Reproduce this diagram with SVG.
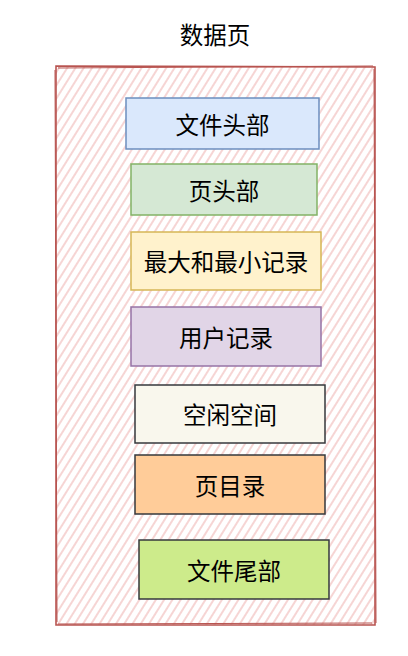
<svg xmlns="http://www.w3.org/2000/svg" width="408" height="656" viewBox="0 0 408 656">
<defs>
<pattern id="hatch" width="7" height="7" patternUnits="userSpaceOnUse" patternTransform="rotate(32)">
<line x1="2" y1="0" x2="2" y2="7" stroke="#efb2b0" stroke-width="1.1"/>
</pattern>
</defs>
<style>
.t{font-family:"Noto Sans CJK SC","Liberation Sans",sans-serif;font-size:23.5px;fill:#000;text-anchor:middle;dominant-baseline:central}
.b{stroke-width:1.5}
</style>
<rect width="408" height="656" fill="#fff"/>
<text class="t" x="215" y="33.5">数据页</text>
<g id="container">
<rect x="56" y="66" width="319" height="559" fill="url(#hatch)"/>
<path d="M56 66 L375 67 L375 625 L56 625 Z" fill="none" stroke="#b85450" stroke-width="1.6"/>
<path d="M58 68 L373 66 M374 69 L376 623 M372 623 L58 624 M57 622 L55 70" fill="none" stroke="#b85450" stroke-width="1"/>
</g>
<g id="n1"><rect class="b" x="126" y="98" width="193" height="51" fill="#dae8fc" stroke="#6c8ebf"/><text class="t" x="222.5" y="123.5">文件头部</text></g>
<g id="n2"><rect class="b" x="131" y="164" width="186" height="51" fill="#d5e8d4" stroke="#82b366"/><text class="t" x="224" y="189.5">页头部</text></g>
<g id="n3"><rect class="b" x="131" y="232" width="190" height="58" fill="#fff2cc" stroke="#d6b656"/><text class="t" x="226" y="261">最大和最小记录</text></g>
<g id="n4"><rect class="b" x="131" y="307" width="190" height="59" fill="#e1d5e7" stroke="#9673a6"/><text class="t" x="226" y="336.5">用户记录</text></g>
<g id="n5"><rect class="b" x="135" y="385" width="190" height="58" fill="#f9f7ed" stroke="#36393d"/><text class="t" x="230" y="414">空闲空间</text></g>
<g id="n6"><rect class="b" x="135" y="455" width="190" height="59" fill="#ffcc99" stroke="#36393d"/><text class="t" x="230" y="484.5">页目录</text></g>
<g id="n7"><rect class="b" x="139" y="540" width="190" height="59" fill="#cdeb8b" stroke="#36393d"/><text class="t" x="234" y="569.5">文件尾部</text></g>
<g id="connectors"/>
</svg>
